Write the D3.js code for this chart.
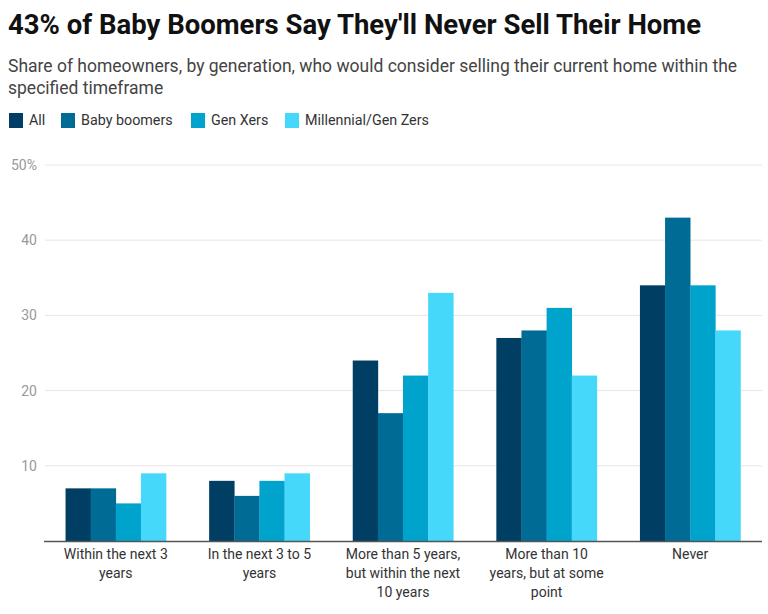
<!DOCTYPE html>
<html><head><meta charset="utf-8">
<script src="https://cdn.jsdelivr.net/npm/d3@7"></script>
<style>body{margin:0;background:#fff;font-family:Roboto,"Noto Sans",sans-serif}</style>
</head><body><svg id="c" width="768" height="614"></svg>
<script>
const categories = [["Within the next 3","years"],["In the next 3 to 5","years"],["More than 5 years,","but within the next","10 years"],["More than 10","years, but at some","point"],["Never"]];
const seriesNames = ["All","Baby boomers","Gen Xers","Millennial/Gen Zers"];
const allValues = [7,8,24,27,34];
const boomerValues = [7,6,17,28,43];
const genXValues = [5,8,22,31,34];
const millValues = [9,9,33,22,28];
const colors = ["#003f63","#006b94","#00a3cc","#45d8fb"];
const yTicks = [10,20,30,40,50];

const series = [allValues, boomerValues, genXValues, millValues];
const svg = d3.select("#c");
svg.append("text").attr("x",8).attr("y",34).attr("font-size",27.5).attr("font-weight",700).attr("fill","#111").text("43% of Baby Boomers Say They'll Never Sell Their Home");
svg.append("text").attr("x",8).attr("y",72).attr("font-size",17.5).attr("fill","#444").text("Share of homeowners, by generation, who would consider selling their current home within the");
svg.append("text").attr("x",8).attr("y",94).attr("font-size",17.5).attr("fill","#444").text("specified timeframe");

// legend
const legX = [9,61,191,285];
seriesNames.forEach((n,i)=>{
  svg.append("rect").attr("x",legX[i]).attr("y",113).attr("width",14).attr("height",15).attr("fill",colors[i]);
  svg.append("text").attr("x",legX[i]+20).attr("y",125).attr("font-size",14.3).attr("fill","#333").text(n);
});

const x = d3.scaleBand().domain(d3.range(categories.length)).range([44,762]).paddingInner(0.3).paddingOuter(0.15);
const x1 = d3.scaleBand().domain(d3.range(seriesNames.length)).range([0,x.bandwidth()]);
const y = d3.scaleLinear().domain([0,50]).range([541,165]);

const g = svg.append("g");
yTicks.forEach(t=>{
  g.append("line").attr("x1",45).attr("x2",762).attr("y1",y(t)).attr("y2",y(t)).attr("stroke","#e6e6e6").attr("stroke-width",1);
  g.append("text").attr("x",37).attr("y",y(t)+5).attr("text-anchor","end").attr("font-size",14).attr("fill","#999").text(t===50?"50%":t);
});

categories.forEach((c,ci)=>{
  series.forEach((s,si)=>{
    g.append("rect").attr("x",x(ci)+x1(si)).attr("width",x1.bandwidth()+0.3).attr("y",y(s[ci])).attr("height",y(0)-y(s[ci])).attr("fill",colors[si]);
  });
  const t = g.append("text").attr("text-anchor","middle").attr("font-size",14).attr("fill","#333");
  c.forEach((line,li)=>{
    t.append("tspan").attr("x",x(ci)+x.bandwidth()/2).attr("y",559+li*19).text(line);
  });
});
g.append("line").attr("x1",44).attr("x2",762).attr("y1",y(0)+0.5).attr("y2",y(0)+0.5).attr("stroke","#555").attr("stroke-width",1.5);
</script></body></html>
